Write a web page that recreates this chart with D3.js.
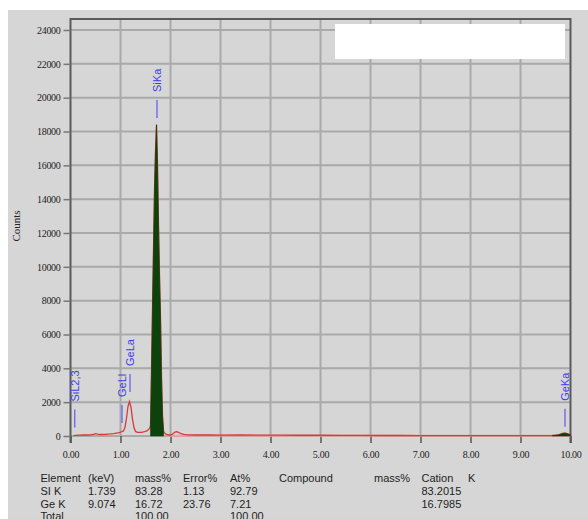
<!DOCTYPE html>
<html>
<head>
<meta charset="utf-8">
<script src="https://cdn.jsdelivr.net/npm/d3@7"></script>
<style>
  html, body { margin: 0; padding: 0; background: #ffffff; }
  svg { display: block; }
</style>
</head>
<body>
<svg id="chart" width="588" height="519"></svg>
<script>
// EDS spectrum: energy (keV) vs counts
const energy = [
  0.06, 0.10, 0.16, 0.24, 0.32, 0.40, 0.46, 0.50, 0.54, 0.60, 0.70, 0.80, 0.86, 0.92, 0.98,
  1.02, 1.06, 1.09, 1.12, 1.15, 1.18, 1.21, 1.24, 1.27, 1.30, 1.34, 1.38, 1.42, 1.46, 1.50,
  1.54, 1.58, 1.60, 1.62, 1.64, 1.66, 1.68, 1.70, 1.72, 1.74, 1.76, 1.78, 1.80, 1.82, 1.84,
  1.86, 1.88, 1.92, 1.96, 2.00, 2.04, 2.08, 2.12, 2.16, 2.20, 2.26, 2.34, 2.50, 2.80, 3.00,
  3.40, 3.80, 4.20, 4.60, 5.00, 5.40, 5.80, 6.20, 6.60, 7.00, 7.60, 8.20, 8.80, 9.40, 9.64,
  9.70, 9.76, 9.80, 9.84, 9.88, 9.92, 9.96, 10.00
];
const counts = [
  20, 40, 50, 60, 60, 70, 90, 140, 110, 90, 100, 120, 140, 170, 200,
  250, 300, 520, 1050, 1750, 2030, 1700, 1000, 500, 270, 220, 210, 220, 240, 270,
  330, 450, 600, 3800, 7500, 11000, 14500, 16800, 18400, 16000, 12500, 9500, 7000, 3500, 1200,
  300, 180, 90, 60, 60, 110, 220, 260, 220, 150, 90, 70, 60, 65, 55,
  60, 50, 50, 45, 45, 40, 35, 30, 30, 25, 25, 20, 20, 20, 30,
  45, 70, 110, 150, 170, 150, 110, 70
];

// fitted background under the spectrum
const backgroundEnergy = [1.90, 10.00];
const backgroundCounts = [8, 8];

// integration windows (keV) shaded in green
const roiWindows = [[1.60, 1.86], [9.64, 10.00]];

// identified lines
const peakNames = ["SiL2,3", "GeLl", "GeLa", "SiKa", "GeKa"];
const peakEnergy = [0.085, 1.03, 1.19, 1.73, 9.89];
const peakMarkerCounts = [500, 770, 2600, 18800, 540];

// axis ticks
const xTicks = [0, 1, 2, 3, 4, 5, 6, 7, 8, 9, 10];
const yTicks = [0, 2000, 4000, 6000, 8000, 10000, 12000, 14000, 16000, 18000, 20000, 22000, 24000];

// quantification table
const tableHeader = ["Element", "(keV)", "mass%", "Error%", "At%", "Compound", "mass%", "Cation", "K"];
const tableRows = [
  ["SI K", "1.739", "83.28", "1.13", "92.79", "", "", "83.2015", ""],
  ["Ge K", "9.074", "16.72", "23.76", "7.21", "", "", "16.7985", ""],
  ["Total", "", "100.00", "", "100.00", "", "", "", ""]
];

const svg = d3.select("#chart");
const W = 588, H = 519;

// panel background
svg.append("rect").attr("x", 8).attr("y", 10).attr("width", W - 8).attr("height", H - 10)
  .attr("fill", "#d6d6d6");

const plot = { left: 70.5, right: 570.5, top: 19, bottom: 436 };
const x = d3.scaleLinear().domain([0, 10]).range([plot.left, plot.right]);
const y = d3.scaleLinear().domain([0, 24000]).range([436, 30]);

const serif = "'Liberation Serif', 'Times New Roman', serif";
const sans = "'Liberation Sans', Arial, sans-serif";

// grid
const grid = svg.append("g");
grid.selectAll("line.v").data(xTicks.slice(1, -1)).join("line")
  .attr("x1", d => x(d)).attr("x2", d => x(d))
  .attr("y1", plot.top).attr("y2", plot.bottom)
  .attr("stroke", "#a9a9a9").attr("stroke-width", 2);
grid.selectAll("line.h").data(yTicks).join("line")
  .attr("x1", plot.left).attr("x2", plot.right)
  .attr("y1", d => y(d)).attr("y2", d => y(d))
  .attr("stroke", "#a9a9a9").attr("stroke-width", 2);

// frame: left axis, top and right border
svg.append("path")
  .attr("d", `M${plot.left},${plot.bottom + 7}V${plot.top}H${plot.right}V${plot.bottom + 7}`)
  .attr("fill", "none").attr("stroke", "#5a5a5a").attr("stroke-width", 2);

// y axis
const yAxis = d3.axisLeft(y).tickValues(yTicks).tickSize(7).tickPadding(3)
  .tickFormat(d => String(d));
const gy = svg.append("g").attr("transform", `translate(${plot.left},0)`).call(yAxis);
gy.select(".domain").remove();
gy.selectAll(".tick line").attr("stroke", "#777").attr("stroke-width", 1.5);
gy.selectAll(".tick text").attr("font-family", serif).attr("font-size", 10)
  .attr("fill", "#222").attr("letter-spacing", "-0.3px");

// x axis
const xAxis = d3.axisBottom(x).tickValues(xTicks).tickSize(7).tickPadding(8)
  .tickFormat(d => d.toFixed(2));
const gx = svg.append("g").attr("transform", `translate(0,${plot.bottom})`).call(xAxis);
gx.select(".domain").remove();
gx.selectAll(".tick line").attr("stroke", "#555").attr("stroke-width", 1.5);
gx.selectAll(".tick text").attr("font-family", serif).attr("font-size", 10)
  .attr("fill", "#222").attr("letter-spacing", "-0.3px");

// y axis title
svg.append("text").attr("transform", "translate(20,226) rotate(-90)")
  .attr("text-anchor", "middle").attr("font-family", serif).attr("font-size", 11)
  .attr("fill", "#222").text("Counts");

// blanked legend box
svg.append("rect").attr("x", 335).attr("y", 24).attr("width", 230).attr("height", 35)
  .attr("fill", "#ffffff");

const pts = energy.map((e, i) => [e, counts[i]]);

// background fit
const bgPts = backgroundEnergy.map((e, i) => [e, backgroundCounts[i]]);
svg.append("path").datum(bgPts)
  .attr("d", d3.line().x(d => x(d[0])).y(d => y(d[1])))
  .attr("fill", "none").attr("stroke", "#e6a3a3").attr("stroke-width", 2);

// spectrum
svg.append("path").datum(pts)
  .attr("d", d3.line().x(d => x(d[0])).y(d => y(d[1])))
  .attr("fill", "none").attr("stroke", "#d63a3a").attr("stroke-width", 1.3);

// integration windows
const area = d3.area().x(d => x(d[0])).y0(y(0)).y1(d => y(d[1]));
roiWindows.forEach(([a, b]) => {
  const sub = pts.filter(p => p[0] >= a - 1e-9 && p[0] <= b + 1e-9);
  svg.append("path").datum(sub).attr("d", area)
    .attr("fill", "#0c420c").attr("stroke", "#0c420c").attr("stroke-width", 0.6);
});

// line markers
const markerLen = 18, markerGap = 8;
const markers = svg.append("g");
peakNames.forEach((name, i) => {
  const px = x(peakEnergy[i]);
  const base = y(peakMarkerCounts[i]);
  markers.append("line")
    .attr("x1", px).attr("x2", px).attr("y1", base).attr("y2", base - markerLen)
    .attr("stroke", "#5b5bf0").attr("stroke-width", 1.2);
  markers.append("text")
    .attr("transform", `translate(${px},${base - markerLen - markerGap}) rotate(-90)`)
    .attr("dominant-baseline", "central")
    .attr("font-family", sans).attr("font-size", 11).attr("fill", "#3d3de6")
    .text(name);
});

// table
const colX = [40.5, 88, 135, 183, 230, 279, 374, 421.5, 468];
const rowY = [481.5, 494.5, 507.5, 519.5];
const table = svg.append("g").attr("font-family", sans).attr("font-size", 11).attr("fill", "#1e1e1e");
[tableHeader, ...tableRows].forEach((row, r) => {
  row.forEach((cell, c) => {
    if (!cell) return;
    table.append("text").attr("x", colX[c]).attr("y", rowY[r]).text(cell);
  });
});
</script>
</body>
</html>
